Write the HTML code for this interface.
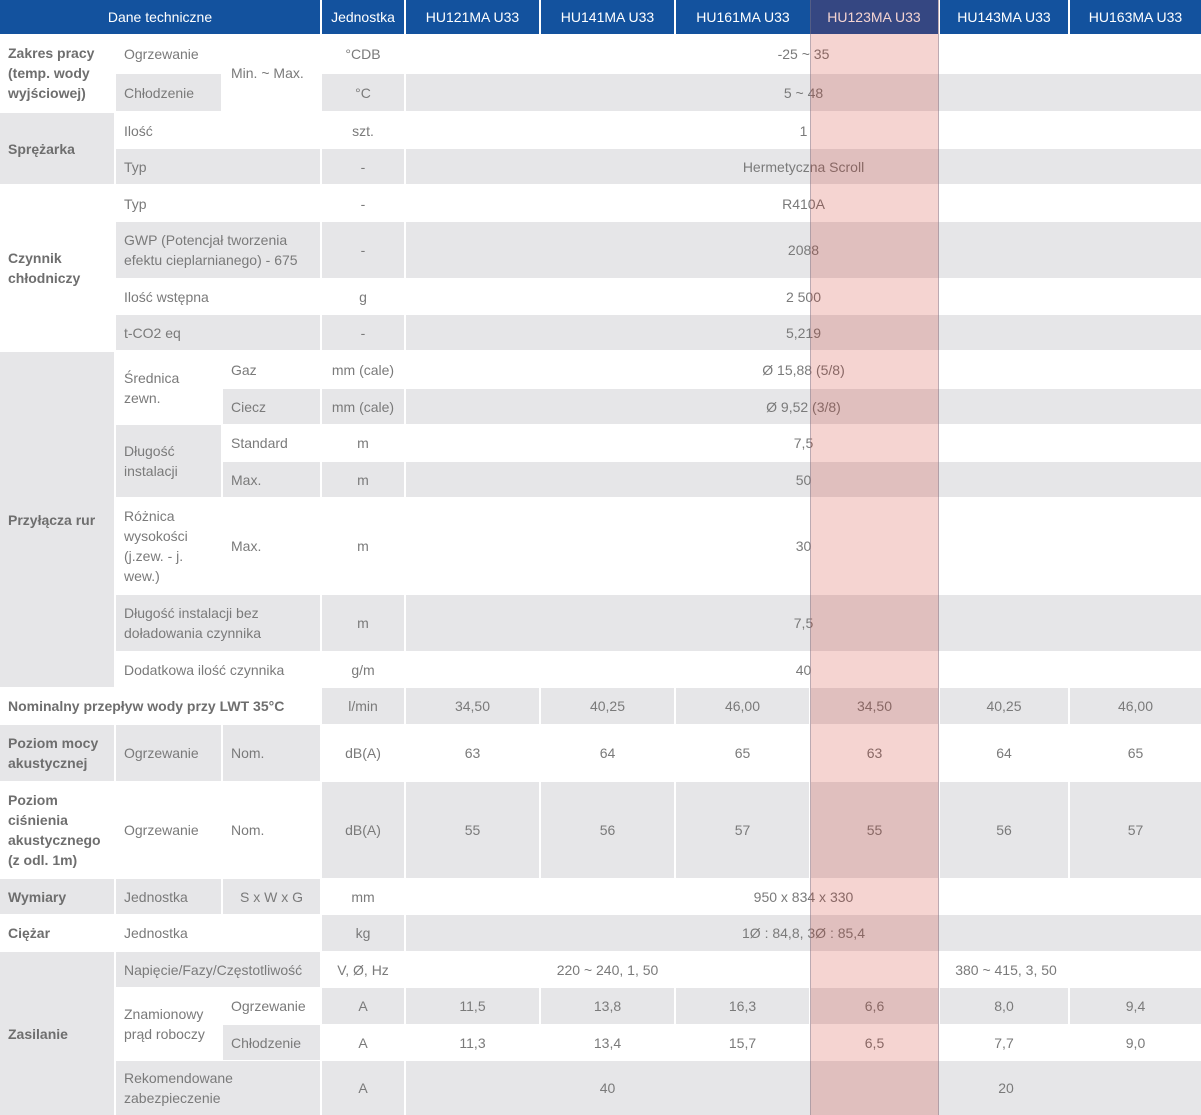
<!DOCTYPE html>
<html><head><meta charset="utf-8"><style>
body{margin:0;width:1201px;height:1115px;background:#fff;position:relative;overflow:hidden;font-family:"Liberation Sans",sans-serif}
.c{position:absolute;display:flex;align-items:center;box-sizing:border-box;padding:0 8px;line-height:20px;font-size:14px;color:#7a7a7a}
.g{background:#e6e6e8}
.m{justify-content:center;text-align:center}
.b{font-weight:bold;color:#6e6e6e}
.h{background:#13529e;color:#fff;justify-content:center;font-size:14px}
.ov{position:absolute;left:810px;top:0;width:127px;height:1115px;background:rgba(203,24,8,0.19);border-left:1px solid rgba(120,120,140,.45);border-right:1px solid rgba(120,120,140,.45)}
</style></head><body>
<!-- header -->
<div class="c h" style="left:0;top:0;width:320px;height:34px">Dane techniczne</div>
<div class="c h" style="left:322px;top:0;width:82px;height:34px">Jednostka</div>
<div class="c h" style="left:406px;top:0;width:133px;height:34px">HU121MA U33</div>
<div class="c h" style="left:541px;top:0;width:133px;height:34px">HU141MA U33</div>
<div class="c h" style="left:676px;top:0;width:134px;height:34px">HU161MA U33</div>
<div class="c h" style="left:810px;top:0;width:128px;height:34px">HU123MA U33</div>
<div class="c h" style="left:940px;top:0;width:128px;height:34px">HU143MA U33</div>
<div class="c h" style="left:1070px;top:0;width:131px;height:34px">HU163MA U33</div>

<!-- Zakres pracy -->
<div class="c b" style="left:0;top:35px;width:114px;height:76px">Zakres pracy (temp. wody wyjściowej)</div>
<div class="c" style="left:116px;top:35px;width:105px;height:38px">Ogrzewanie</div>
<div class="c" style="left:223px;top:35px;width:97px;height:76px">Min. ~ Max.</div>
<div class="c m" style="left:322px;top:35px;width:82px;height:38px">°CDB</div>
<div class="c m" style="left:406px;top:35px;width:795px;height:38px">-25 ~ 35</div>
<div class="c g" style="left:116px;top:74px;width:105px;height:37px">Chłodzenie</div>
<div class="c g m" style="left:322px;top:74px;width:82px;height:37px">°C</div>
<div class="c g m" style="left:406px;top:74px;width:795px;height:37px">5 ~ 48</div>

<!-- Sprężarka -->
<div class="c g b" style="left:0;top:113px;width:114px;height:71px">Sprężarka</div>
<div class="c" style="left:116px;top:113px;width:204px;height:35px">Ilość</div>
<div class="c m" style="left:322px;top:113px;width:82px;height:35px">szt.</div>
<div class="c m" style="left:406px;top:113px;width:795px;height:35px">1</div>
<div class="c g" style="left:116px;top:149px;width:204px;height:35px">Typ</div>
<div class="c g m" style="left:322px;top:149px;width:82px;height:35px">-</div>
<div class="c g m" style="left:406px;top:149px;width:795px;height:35px">Hermetyczna Scroll</div>

<!-- Czynnik -->
<div class="c b" style="left:0;top:186px;width:114px;height:164px">Czynnik chłodniczy</div>
<div class="c" style="left:116px;top:186px;width:204px;height:35px">Typ</div>
<div class="c m" style="left:322px;top:186px;width:82px;height:35px">-</div>
<div class="c m" style="left:406px;top:186px;width:795px;height:35px">R410A</div>
<div class="c g" style="left:116px;top:222px;width:204px;height:56px">GWP (Potencjał tworzenia efektu cieplarnianego) - 675</div>
<div class="c g m" style="left:322px;top:222px;width:82px;height:56px">-</div>
<div class="c g m" style="left:406px;top:222px;width:795px;height:56px">2088</div>
<div class="c" style="left:116px;top:279px;width:204px;height:35px">Ilość wstępna</div>
<div class="c m" style="left:322px;top:279px;width:82px;height:35px">g</div>
<div class="c m" style="left:406px;top:279px;width:795px;height:35px">2 500</div>
<div class="c g" style="left:116px;top:315px;width:204px;height:35px">t-CO2 eq</div>
<div class="c g m" style="left:322px;top:315px;width:82px;height:35px">-</div>
<div class="c g m" style="left:406px;top:315px;width:795px;height:35px">5,219</div>

<!-- Przyłącza rur -->
<div class="c g b" style="left:0;top:352px;width:114px;height:335px">Przyłącza rur</div>
<div class="c" style="left:116px;top:352px;width:105px;height:72px">Średnica zewn.</div>
<div class="c" style="left:223px;top:352px;width:97px;height:35px">Gaz</div>
<div class="c m" style="left:322px;top:352px;width:82px;height:35px">mm (cale)</div>
<div class="c m" style="left:406px;top:352px;width:795px;height:35px">Ø 15,88 (5/8)</div>
<div class="c g" style="left:223px;top:389px;width:97px;height:35px">Ciecz</div>
<div class="c g m" style="left:322px;top:389px;width:82px;height:35px">mm (cale)</div>
<div class="c g m" style="left:406px;top:389px;width:795px;height:35px">Ø 9,52 (3/8)</div>
<div class="c g" style="left:116px;top:425px;width:105px;height:72px">Długość instalacji</div>
<div class="c" style="left:223px;top:425px;width:97px;height:35px">Standard</div>
<div class="c m" style="left:322px;top:425px;width:82px;height:35px">m</div>
<div class="c m" style="left:406px;top:425px;width:795px;height:35px">7,5</div>
<div class="c g" style="left:223px;top:462px;width:97px;height:35px">Max.</div>
<div class="c g m" style="left:322px;top:462px;width:82px;height:35px">m</div>
<div class="c g m" style="left:406px;top:462px;width:795px;height:35px">50</div>
<div class="c" style="left:116px;top:498px;width:105px;height:96px">Różnica wysokości (j.zew. - j. wew.)</div>
<div class="c" style="left:223px;top:498px;width:97px;height:96px">Max.</div>
<div class="c m" style="left:322px;top:498px;width:82px;height:96px">m</div>
<div class="c m" style="left:406px;top:498px;width:795px;height:96px">30</div>
<div class="c g" style="left:116px;top:595px;width:204px;height:56px">Długość instalacji bez doładowania czynnika</div>
<div class="c g m" style="left:322px;top:595px;width:82px;height:56px">m</div>
<div class="c g m" style="left:406px;top:595px;width:795px;height:56px">7,5</div>
<div class="c" style="left:116px;top:652px;width:204px;height:35px">Dodatkowa ilość czynnika</div>
<div class="c m" style="left:322px;top:652px;width:82px;height:35px">g/m</div>
<div class="c m" style="left:406px;top:652px;width:795px;height:35px">40</div>

<!-- Nominalny -->
<div class="c b" style="left:0;top:688px;width:320px;height:36px">Nominalny przepływ wody przy LWT 35°C</div>
<div class="c g m" style="left:322px;top:688px;width:82px;height:36px">l/min</div>
<div class="c g m" style="left:406px;top:688px;width:133px;height:36px">34,50</div>
<div class="c g m" style="left:541px;top:688px;width:133px;height:36px">40,25</div>
<div class="c g m" style="left:676px;top:688px;width:133px;height:36px">46,00</div>
<div class="c g m" style="left:811px;top:688px;width:127px;height:36px">34,50</div>
<div class="c g m" style="left:940px;top:688px;width:128px;height:36px">40,25</div>
<div class="c g m" style="left:1070px;top:688px;width:131px;height:36px">46,00</div>

<!-- Poziom mocy -->
<div class="c g b" style="left:0;top:725px;width:114px;height:56px">Poziom mocy akustycznej</div>
<div class="c g" style="left:116px;top:725px;width:105px;height:56px">Ogrzewanie</div>
<div class="c g" style="left:223px;top:725px;width:97px;height:56px">Nom.</div>
<div class="c m" style="left:322px;top:725px;width:82px;height:56px">dB(A)</div>
<div class="c m" style="left:406px;top:725px;width:133px;height:56px">63</div>
<div class="c m" style="left:541px;top:725px;width:133px;height:56px">64</div>
<div class="c m" style="left:676px;top:725px;width:133px;height:56px">65</div>
<div class="c m" style="left:811px;top:725px;width:127px;height:56px">63</div>
<div class="c m" style="left:940px;top:725px;width:128px;height:56px">64</div>
<div class="c m" style="left:1070px;top:725px;width:131px;height:56px">65</div>

<!-- Poziom ciśnienia -->
<div class="c b" style="left:0;top:782px;width:114px;height:96px">Poziom ciśnienia akustycznego (z odl. 1m)</div>
<div class="c" style="left:116px;top:782px;width:105px;height:96px">Ogrzewanie</div>
<div class="c" style="left:223px;top:782px;width:97px;height:96px">Nom.</div>
<div class="c g m" style="left:322px;top:782px;width:82px;height:96px">dB(A)</div>
<div class="c g m" style="left:406px;top:782px;width:133px;height:96px">55</div>
<div class="c g m" style="left:541px;top:782px;width:133px;height:96px">56</div>
<div class="c g m" style="left:676px;top:782px;width:133px;height:96px">57</div>
<div class="c g m" style="left:811px;top:782px;width:127px;height:96px">55</div>
<div class="c g m" style="left:940px;top:782px;width:128px;height:96px">56</div>
<div class="c g m" style="left:1070px;top:782px;width:131px;height:96px">57</div>

<!-- Wymiary -->
<div class="c g b" style="left:0;top:879px;width:114px;height:35px">Wymiary</div>
<div class="c g" style="left:116px;top:879px;width:105px;height:35px">Jednostka</div>
<div class="c g m" style="left:223px;top:879px;width:97px;height:35px">S x W x G</div>
<div class="c m" style="left:322px;top:879px;width:82px;height:35px">mm</div>
<div class="c m" style="left:406px;top:879px;width:795px;height:35px">950 x 834 x 330</div>

<!-- Ciężar -->
<div class="c b" style="left:0;top:915px;width:114px;height:36px">Ciężar</div>
<div class="c" style="left:116px;top:915px;width:204px;height:36px">Jednostka</div>
<div class="c g m" style="left:322px;top:915px;width:82px;height:36px">kg</div>
<div class="c g m" style="left:406px;top:915px;width:795px;height:36px">1Ø : 84,8, 3Ø : 85,4</div>

<!-- Zasilanie -->
<div class="c g b" style="left:0;top:952px;width:114px;height:163px">Zasilanie</div>
<div class="c g" style="left:116px;top:952px;width:204px;height:35px;white-space:nowrap">Napięcie/Fazy/Częstotliwość</div>
<div class="c m" style="left:322px;top:952px;width:82px;height:35px">V, Ø, Hz</div>
<div class="c m" style="left:406px;top:952px;width:403px;height:35px">220 ~ 240, 1, 50</div>
<div class="c m" style="left:811px;top:952px;width:390px;height:35px">380 ~ 415, 3, 50</div>
<div class="c" style="left:116px;top:988px;width:105px;height:72px">Znamionowy prąd roboczy</div>
<div class="c" style="left:223px;top:988px;width:97px;height:36px">Ogrzewanie</div>
<div class="c g m" style="left:322px;top:988px;width:82px;height:36px">A</div>
<div class="c g m" style="left:406px;top:988px;width:133px;height:36px">11,5</div>
<div class="c g m" style="left:541px;top:988px;width:133px;height:36px">13,8</div>
<div class="c g m" style="left:676px;top:988px;width:133px;height:36px">16,3</div>
<div class="c g m" style="left:811px;top:988px;width:127px;height:36px">6,6</div>
<div class="c g m" style="left:940px;top:988px;width:128px;height:36px">8,0</div>
<div class="c g m" style="left:1070px;top:988px;width:131px;height:36px">9,4</div>
<div class="c g" style="left:223px;top:1025px;width:97px;height:35px">Chłodzenie</div>
<div class="c m" style="left:322px;top:1025px;width:82px;height:35px">A</div>
<div class="c m" style="left:406px;top:1025px;width:133px;height:35px">11,3</div>
<div class="c m" style="left:541px;top:1025px;width:133px;height:35px">13,4</div>
<div class="c m" style="left:676px;top:1025px;width:133px;height:35px">15,7</div>
<div class="c m" style="left:811px;top:1025px;width:127px;height:35px">6,5</div>
<div class="c m" style="left:940px;top:1025px;width:128px;height:35px">7,7</div>
<div class="c m" style="left:1070px;top:1025px;width:131px;height:35px">9,0</div>
<div class="c g" style="left:116px;top:1061px;width:204px;height:54px">Rekomendowane zabezpieczenie</div>
<div class="c g m" style="left:322px;top:1061px;width:82px;height:54px">A</div>
<div class="c g m" style="left:406px;top:1061px;width:795px;height:54px"></div>
<div class="c m" style="left:406px;top:1061px;width:403px;height:54px">40</div>
<div class="c m" style="left:811px;top:1061px;width:390px;height:54px">20</div>

<div class="ov"></div>
</body></html>
